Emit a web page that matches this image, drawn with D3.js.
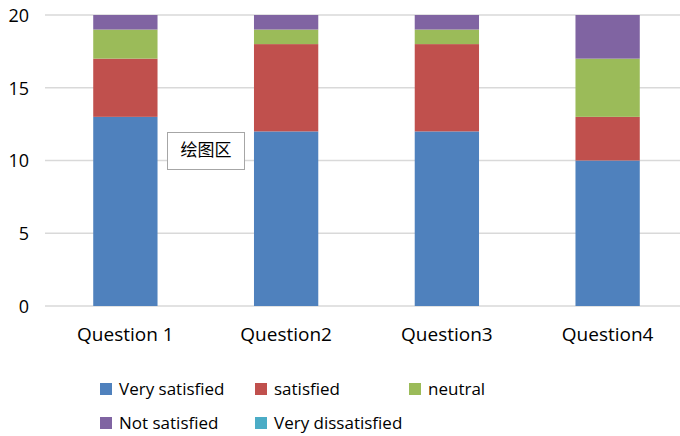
<!DOCTYPE html>
<html>
<head>
<meta charset="utf-8">
<script src="https://cdn.jsdelivr.net/npm/d3@7"></script>
<style>
  html, body { margin: 0; padding: 0; background: #fff; }
  svg { display: block; }
  text { font-family: "Open Sans", "Noto Sans", sans-serif; fill: #000; }
</style>
</head>
<body>
<svg id="chart" width="680" height="436"></svg>
<script>
// Survey responses per question, stacked by satisfaction level
const questions = ["Question 1", "Question2", "Question3", "Question4"];
const levels = ["Very satisfied", "satisfied", "neutral", "Not satisfied", "Very dissatisfied"];
const verySatisfied    = [13, 12, 12, 10];
const satisfied        = [4, 6, 6, 3];
const neutral          = [2, 1, 1, 4];
const notSatisfied     = [1, 1, 1, 3];
const veryDissatisfied = [0, 0, 0, 0];
const yTicks = [0, 5, 10, 15, 20];
const colors = ["#4F81BD", "#C0504D", "#9BBB59", "#8064A2", "#4BACC6"];

const seriesValues = [verySatisfied, satisfied, neutral, notSatisfied, veryDissatisfied];
const rows = questions.map((q, i) => {
  const r = { question: q };
  levels.forEach((l, j) => { r[l] = seriesValues[j][i]; });
  return r;
});

const svg = d3.select("#chart");

const x = d3.scaleBand().domain(questions).range([45, 688]).paddingInner(0.6).paddingOuter(0.3);
const y = d3.scaleLinear().domain([0, 20]).range([306, 15]);

// Horizontal gridlines
svg.append("g")
  .selectAll("line")
  .data(yTicks)
  .join("line")
  .attr("x1", 45).attr("x2", 680)
  .attr("y1", d => y(d)).attr("y2", d => y(d))
  .attr("stroke", "#d9d9d9").attr("stroke-width", 1.3);

// Y axis labels
const yAxis = d3.axisLeft(y).tickValues(yTicks).tickSize(0).tickPadding(0);
const yg = svg.append("g").attr("transform", "translate(29,0)").call(yAxis);
yg.select(".domain").remove();
yg.selectAll("text").attr("font-size", 18).attr("font-family", "'Open Sans', sans-serif").attr("fill", "#000").attr("dy", "0.35em");

// Stacked bars
const stack = d3.stack().keys(levels)(rows);
svg.append("g")
  .selectAll("g")
  .data(stack)
  .join("g")
  .attr("fill", (d, i) => colors[i])
  .selectAll("rect")
  .data(d => d)
  .join("rect")
  .attr("x", d => x(d.data.question))
  .attr("width", x.bandwidth())
  .attr("y", d => y(d[1]))
  .attr("height", d => y(d[0]) - y(d[1]));

// Category axis labels
const xAxis = d3.axisBottom(x).tickSize(0).tickPadding(0);
const xg = svg.append("g").attr("transform", "translate(0,341)").call(xAxis);
xg.select(".domain").remove();
xg.selectAll("text").attr("font-size", 19).attr("font-family", "'Open Sans', sans-serif").attr("fill", "#000").attr("dy", "0");

// Plot-area hover label
const tip = svg.append("g").attr("transform", "translate(167.5,132.5)");
tip.append("rect").attr("width", 77).attr("height", 37)
  .attr("fill", "#fff").attr("stroke", "#a6a6a6").attr("stroke-width", 1);
tip.append("text").attr("x", 38.5).attr("y", 18).attr("dy", "0.35em")
  .attr("text-anchor", "middle").attr("font-size", 17).attr("fill", "#595959")
  .style("font-family", "'Noto Sans CJK SC', sans-serif")
  .text("绘图区");

// Legend
const legendPos = [[100, 389], [255, 389], [409, 389], [100, 423], [255, 423]];
const legend = svg.append("g")
  .selectAll("g")
  .data(levels)
  .join("g")
  .attr("transform", (d, i) => `translate(${legendPos[i][0]},${legendPos[i][1]})`);
legend.append("rect").attr("x", 0).attr("y", -6).attr("width", 12).attr("height", 12)
  .attr("fill", (d, i) => colors[i]);
legend.append("text").attr("x", 19).attr("y", 0).attr("dy", "0.35em")
  .attr("font-size", 17).text(d => d);
</script>
</body>
</html>
